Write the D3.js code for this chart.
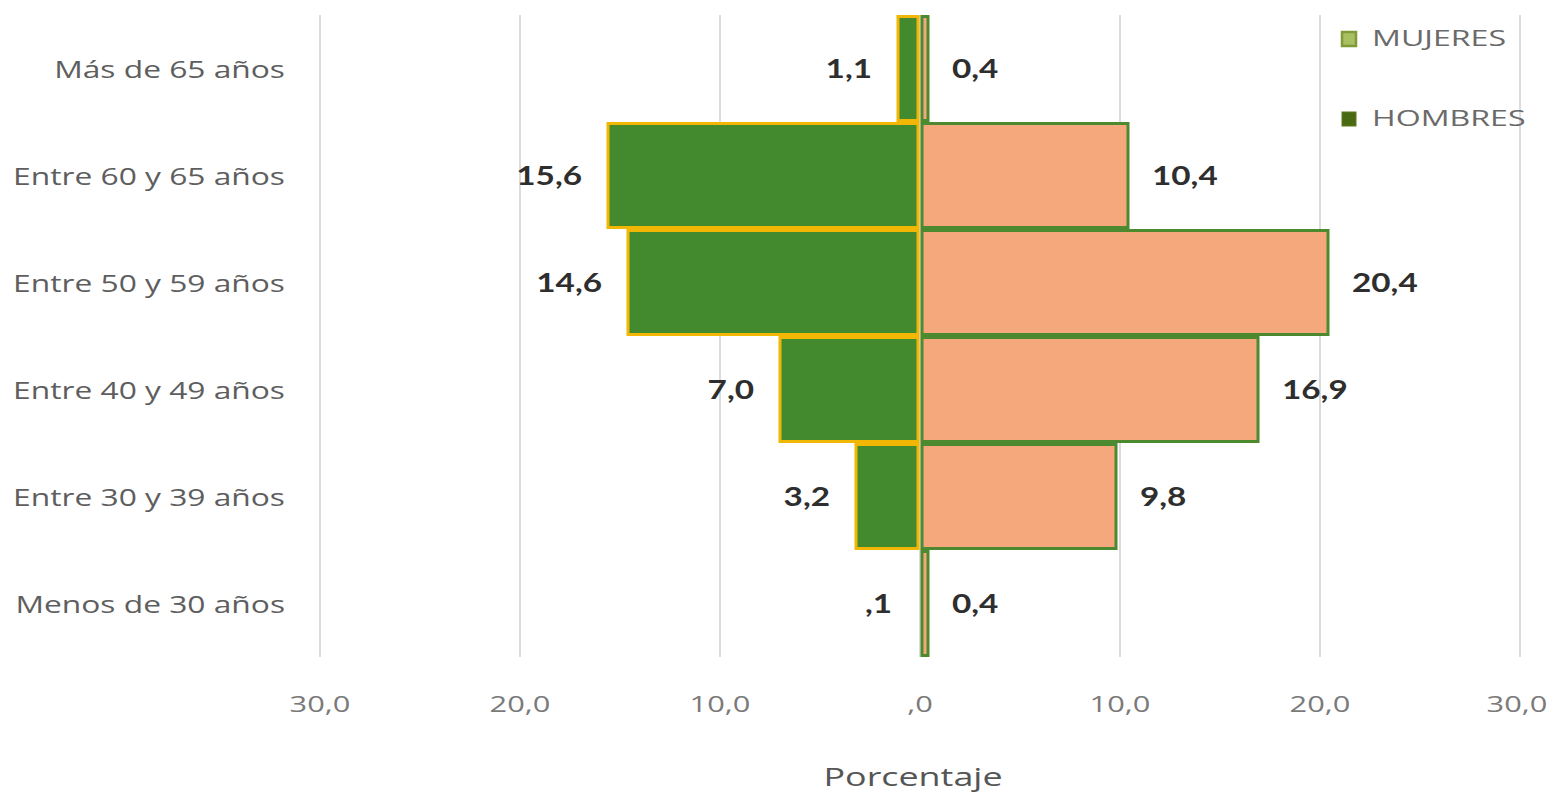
<!DOCTYPE html>
<html>
<head>
<meta charset="utf-8">
<script src="https://cdn.jsdelivr.net/npm/d3@7"></script>
<style>
  html, body { margin: 0; padding: 0; background: #ffffff; }
  svg { display: block; }
</style>
</head>
<body>
<svg id="chart" width="1556" height="799"></svg>
<script>
// Age groups, top to bottom
const categories = [
  "Más de 65 años",
  "Entre 60 y 65 años",
  "Entre 50 y 59 años",
  "Entre 40 y 49 años",
  "Entre 30 y 39 años",
  "Menos de 30 años"
];
// Percentages per sex
const hombres = [1.1, 15.6, 14.6, 7.0, 3.2, 0.1];
const mujeres = [0.4, 10.4, 20.4, 16.9, 9.8, 0.4];
const hombresLabels = ["1,1", "15,6", "14,6", "7,0", "3,2", ",1"];
const mujeresLabels = ["0,4", "10,4", "20,4", "16,9", "9,8", "0,4"];
// Axis ticks
const tickValues = [-30, -20, -10, 0, 10, 20, 30];
const tickLabels = ["30,0", "20,0", "10,0", ",0", "10,0", "20,0", "30,0"];
const legendItems = ["MUJERES", "HOMBRES"];

const svg = d3.select("#chart");
const SX = 1.28; // horizontal stretch applied to all text

const x = d3.scaleLinear().domain([-30, 30]).range([320, 1520]);
const y = d3.scaleBand().domain(categories).range([15, 657]).padding(0);

function stretchedText(g, tx, ty, str, anchor, sx) {
  return g.append("text")
    .attr("transform", `translate(${tx},${ty}) scale(${sx || SX},1)`)
    .attr("text-anchor", anchor || "start")
    .attr("dominant-baseline", "middle")
    .text(str);
}

// Vertical gridlines
svg.append("g").selectAll("line")
  .data(tickValues)
  .join("line")
  .attr("x1", d => x(d)).attr("x2", d => x(d))
  .attr("y1", 15).attr("y2", 657)
  .attr("stroke", "#dcdcdc")
  .attr("stroke-width", 2);

const gap = 2;

// Men: left side
svg.append("g").selectAll("rect")
  .data(hombres)
  .join("rect")
  .attr("x", d => x(-d))
  .attr("y", (d, i) => y(categories[i]) + 1.5)
  .attr("width", d => Math.max(0, x(0) - gap - x(-d)))
  .attr("height", y.bandwidth() - 3)
  .attr("fill", "#428a2d")
  .attr("stroke", "#f2b705")
  .attr("stroke-width", 3);

// Women: right side
svg.append("g").selectAll("rect")
  .data(mujeres)
  .join("rect")
  .attr("x", x(0) + gap)
  .attr("y", (d, i) => y(categories[i]) + 1.5)
  .attr("width", d => Math.max(0, x(d) - x(0) - gap))
  .attr("height", y.bandwidth() - 3)
  .attr("fill", "#f5a87c")
  .attr("stroke", "#4d8a2f")
  .attr("stroke-width", 3);

// Value labels
const lab = svg.append("g")
  .attr("font-family", "Lato, 'Open Sans', sans-serif")
  .attr("font-size", 26)
  .attr("font-weight", 700)
  .attr("fill", "#2e2e2e");
hombres.forEach((v, i) => {
  stretchedText(lab, x(-v) - 26, y(categories[i]) + y.bandwidth() / 2 + 3, hombresLabels[i], "end");
});
mujeres.forEach((v, i) => {
  stretchedText(lab, x(v) + 24, y(categories[i]) + y.bandwidth() / 2 + 3, mujeresLabels[i], "start");
});

// Category labels
const cat = svg.append("g")
  .attr("font-family", "'Open Sans', Lato, sans-serif")
  .attr("font-size", 23)
  .attr("fill", "#5e5e5e");
categories.forEach(c => {
  stretchedText(cat, 285, y(c) + y.bandwidth() / 2 + 3, c, "end", 1.38);
});

// Axis tick labels
const ticks = svg.append("g")
  .attr("font-family", "'Open Sans', Lato, sans-serif")
  .attr("font-size", 22)
  .attr("fill", "#7a7a7a");
tickValues.forEach((t, i) => {
  stretchedText(ticks, x(t) + (i === tickValues.length - 1 ? -3 : 0), 706, tickLabels[i], "middle", 1.4);
});

// Axis title
const title = svg.append("g")
  .attr("font-family", "'Open Sans', Lato, sans-serif")
  .attr("font-size", 26)
  .attr("fill", "#555555");
stretchedText(title, 913, 779, "Porcentaje", "middle", 1.38);

// Legend
const legend = svg.append("g")
  .attr("font-family", "'Open Sans', Lato, sans-serif")
  .attr("font-size", 22)
  .attr("fill", "#6a6a6a");
const legendY = [39, 119];
legendItems.forEach((name, i) => {
  const sw = legend.append("rect")
    .attr("x", 1342).attr("y", legendY[i] - 7)
    .attr("width", 14).attr("height", 14);
  if (i === 0) {
    sw.attr("fill", "#a8bf62").attr("stroke", "#7f9a36").attr("stroke-width", 2.5);
  } else {
    sw.attr("fill", "#4a6a12").attr("stroke", "#5b7a1c").attr("stroke-width", 1);
  }
  stretchedText(legend, 1372, legendY[i] + 1, name, "start", 1.46);
});
</script>
</body>
</html>
